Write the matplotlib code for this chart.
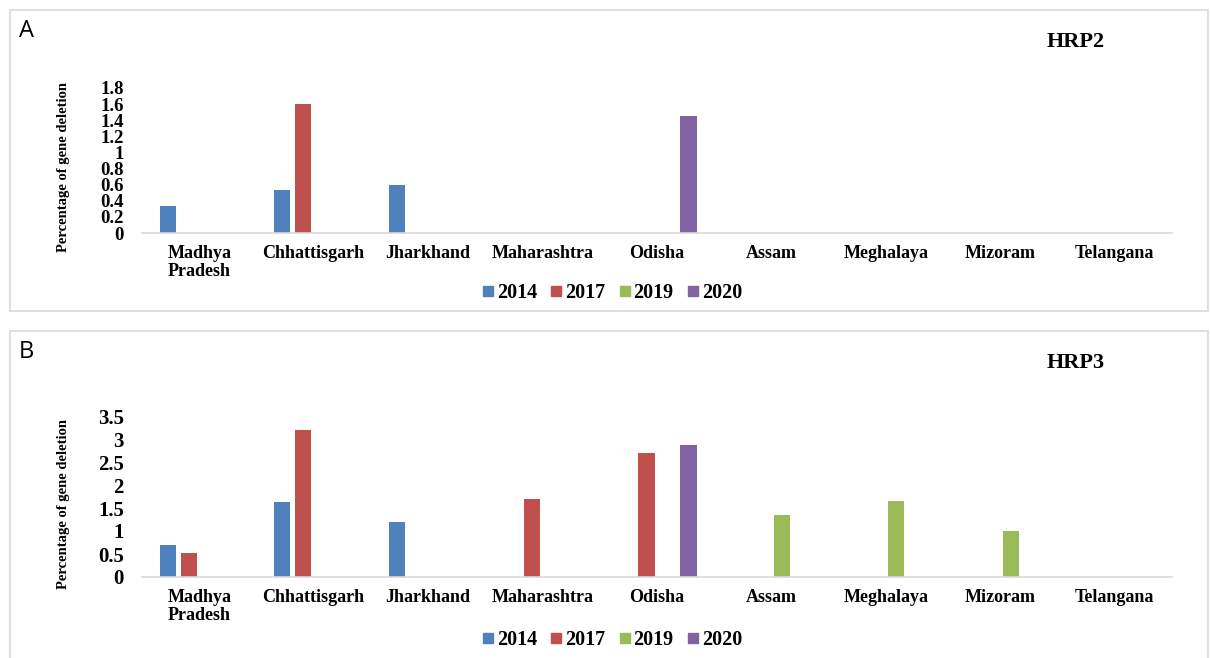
import matplotlib
matplotlib.use('Agg')
import matplotlib.pyplot as plt
from matplotlib.patches import Rectangle
from matplotlib.lines import Line2D
import numpy as np

# data
states = ['Madhya\nPradesh', 'Chhattisgarh', 'Jharkhand', 'Maharashtra', 'Odisha',
          'Assam', 'Meghalaya', 'Mizoram', 'Telangana']
years = ['2014', '2017', '2019', '2020']
colors = ['#4F81BD', '#C0504D', '#9BBB59', '#8064A2']

hrp2_2014 = [0.34, 0.54, 0.60, 0, 0, 0, 0, 0, 0]
hrp2_2017 = [0, 1.60, 0, 0, 0, 0, 0, 0, 0]
hrp2_2019 = [0, 0, 0, 0, 0, 0, 0, 0, 0]
hrp2_2020 = [0, 0, 0, 0, 1.45, 0, 0, 0, 0]

hrp3_2014 = [0.70, 1.64, 1.19, 0, 0, 0, 0, 0, 0]
hrp3_2017 = [0.52, 3.20, 0, 1.69, 2.70, 0, 0, 0, 0]
hrp3_2019 = [0, 0, 0, 0, 0, 1.34, 1.65, 1.00, 0]
hrp3_2020 = [0, 0, 0, 0, 2.88, 0, 0, 0, 0]

hrp2_ticks = [0, 0.2, 0.4, 0.6, 0.8, 1, 1.2, 1.4, 1.6, 1.8]
hrp3_ticks = [0, 0.5, 1, 1.5, 2, 2.5, 3, 3.5]

W, H = 1210, 658
serif = 'Liberation Serif'
fig = plt.figure(figsize=(W / 100, H / 100), dpi=100)


def fx(x):
    return x / W


def fy(y):
    return 1 - y / H


def panel(top, bottom, box, letter, title, series, ticks, tick_size, ylab_y, leg_y):
    # frame of the panel
    fig.patches.append(Rectangle((fx(box[0]), fy(box[3])), fx(box[2] - box[0]),
                                 (box[3] - box[1]) / H, transform=fig.transFigure,
                                 fill=False, edgecolor='#D9D9D9', lw=1.2))
    ax = fig.add_axes([fx(142), fy(bottom), fx(1030), (bottom - top) / H])
    x = np.arange(len(states))
    for i, vals in enumerate(series):
        ax.bar(x + (i - 1.5) * 0.1835, vals, width=0.14, color=colors[i],
               linewidth=0, label=years[i])
    ax.set_xlim(-0.5, len(states) - 0.5)
    ax.set_ylim(0, ticks[-1])
    ax.set_yticks(ticks)
    ax.set_yticklabels([('%g' % t) for t in ticks], fontfamily=serif,
                       fontweight='bold', fontsize=tick_size)
    ax.set_xticks(x)
    ax.set_xticklabels(states, fontfamily=serif, fontweight='bold', fontsize=13,
                       linespacing=1.0)
    ax.tick_params(axis='both', length=0)
    ax.tick_params(axis='x', pad=9)
    ax.tick_params(axis='y', pad=13)
    for s in ['top', 'right', 'left']:
        ax.spines[s].set_visible(False)
    ax.spines['bottom'].set_color('#D9D9D9')
    ax.spines['bottom'].set_linewidth(1.2)

    fig.text(fx(64), fy(ylab_y), 'Percentage of gene deletion', rotation=90,
             ha='center', va='center', fontfamily=serif, fontweight='bold',
             fontsize=10.5)
    fig.text(fx(19), fy(box[1] + 21), letter, ha='left', va='center',
             fontfamily='Open Sans', fontsize=17)
    fig.text(fx(1076), fy(box[1] + 32), title, ha='center', va='center',
             fontfamily=serif, fontweight='bold', fontsize=16)

    handles = [Line2D([], [], marker='s', linestyle='none', markersize=7,
                      color=c) for c in colors]
    fig.legend(handles, years, loc='center', bbox_to_anchor=(fx(612), fy(leg_y)),
               ncol=4, frameon=False, handlelength=0.6, handletextpad=0.15,
               columnspacing=0.65, prop={'family': serif, 'weight': 'bold',
                                         'size': 14.5})
    return ax


panel(88, 233, (10, 10, 1208, 311), 'A', 'HRP2',
      [hrp2_2014, hrp2_2017, hrp2_2019, hrp2_2020], hrp2_ticks, 13.5, 167, 293)
panel(416, 577, (10, 331, 1208, 680), 'B', 'HRP3',
      [hrp3_2014, hrp3_2017, hrp3_2019, hrp3_2020], hrp3_ticks, 15, 504, 640)

fig.savefig('out.png', dpi=100)
